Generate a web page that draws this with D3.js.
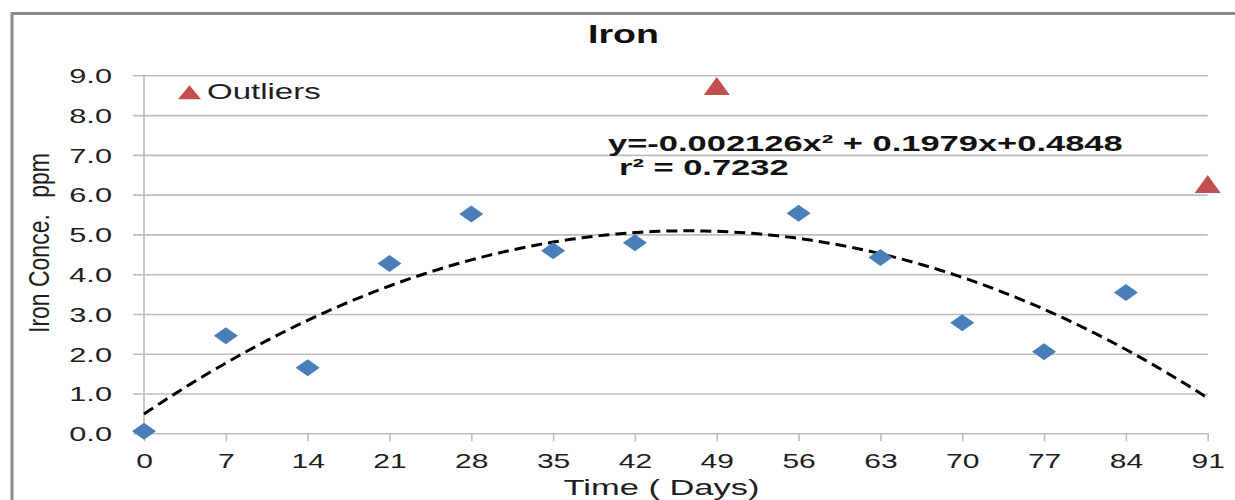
<!DOCTYPE html>
<html>
<head>
<meta charset="utf-8">
<script src="https://cdn.jsdelivr.net/npm/d3@7/dist/d3.min.js"></script>
<style>
  html, body { margin: 0; padding: 0; background: #fff; }
  svg { display: block; }
  text { font-family: "Liberation Sans", Arial, Helvetica, sans-serif; }
</style>
</head>
<body>
<svg id="chart" width="1235" height="500"></svg>
<script>
// Weekly iron readings (ppm)
const days = [0, 7, 14, 21, 28, 35, 42, 56, 63, 70, 77, 84];
const ironValues = [0.05, 2.45, 1.65, 4.27, 5.51, 4.59, 4.79, 5.53, 4.42, 2.78, 2.05, 3.54];

// Readings flagged as outliers
const outlierDays = [49, 91];
const outlierValues = [8.73, 6.27];

// Axis ticks
const xTicks = [0, 7, 14, 21, 28, 35, 42, 49, 56, 63, 70, 77, 84, 91];
const yTicks = [0, 1, 2, 3, 4, 5, 6, 7, 8, 9];

// Second-order polynomial trend: a*x^2 + b*x + c
const trendCoefficients = [-0.002126, 0.1979, 0.4848];
const equationLabel = "y=-0.002126x\u00B2 + 0.1979x+0.4848";
const rSquaredLabel = "r\u00B2 = 0.7232";

const chartTitle = "Iron";
const xTitle = "Time ( Days)";
const yTitleParts = ["Iron Conce.", "ppm"];
const legendLabel = "Outliers";

const svg = d3.select("#chart");
const W = 1235, H = 500;
const STRETCH = 1.5; // wide text rendering

const plot = { left: 144, right: 1207.7, top: 75.3, bottom: 433.3 };
const x = d3.scaleLinear().domain([0, 91]).range([plot.left, plot.right]);
const y = d3.scaleLinear().domain([0, 9]).range([plot.bottom, plot.top]);

// Chart frame
svg.append("rect")
  .attr("x", 12).attr("y", 13.5)
  .attr("width", W + 20).attr("height", H + 20)
  .attr("fill", "none")
  .attr("stroke", "#8a8a8a")
  .attr("stroke-width", 3);

// Horizontal gridlines + y tick labels
const yAxis = svg.append("g")
  .attr("transform", `translate(${plot.left - 11},0)`)
  .call(d3.axisLeft(y).tickValues(yTicks).tickSize(-(plot.right - plot.left + 11)).tickFormat(d3.format(".1f")));
yAxis.select(".domain").remove();
yAxis.selectAll(".tick line").attr("stroke", "#bdbdbd").attr("stroke-width", 1.6);
yAxis.selectAll(".tick text")
  .attr("x", null).attr("dy", null)
  .attr("text-anchor", "end")
  .attr("transform", `translate(-21,7.3) scale(${STRETCH},1)`)
  .attr("font-size", 20.5)
  .attr("fill", "#1e1e1e");

// Vertical axis line
svg.append("line")
  .attr("x1", x(0)).attr("x2", x(0))
  .attr("y1", y(9)).attr("y2", y(0))
  .attr("stroke", "#bdbdbd").attr("stroke-width", 1.6);

// X axis ticks + labels
const xAxis = svg.append("g")
  .attr("transform", `translate(0,${plot.bottom})`)
  .call(d3.axisBottom(x).tickValues(xTicks).tickSize(8));
xAxis.select(".domain").remove();
xAxis.selectAll(".tick line").attr("stroke", "#bdbdbd").attr("stroke-width", 1.6);
xAxis.selectAll(".tick text")
  .attr("y", null).attr("dy", null)
  .attr("transform", `translate(0,35) scale(${STRETCH},1)`)
  .attr("font-size", 20)
  .attr("fill", "#1e1e1e");

// Trend curve
const trend = d => trendCoefficients[0] * d * d + trendCoefficients[1] * d + trendCoefficients[2];
const curveDays = d3.range(0, 91.01, 0.5);
svg.append("path")
  .datum(curveDays)
  .attr("d", d3.line().x(d => x(d)).y(d => y(trend(d))))
  .attr("fill", "none")
  .attr("stroke", "#000")
  .attr("stroke-width", 3)
  .attr("stroke-dasharray", "11,6");

// Diamond markers
const diamond = (w, h) => `M0,${-h / 2}L${w / 2},0L0,${h / 2}L${-w / 2},0Z`;
svg.append("g").selectAll("path")
  .data(days.map((d, i) => [d, ironValues[i]]))
  .join("path")
  .attr("d", diamond(24, 17))
  .attr("transform", d => `translate(${x(d[0])},${y(d[1])})`)
  .attr("fill", "#4a7ebb");

// Triangle markers
const triangle = (w, h) => `M0,${-h / 2}L${w / 2},${h / 2}L${-w / 2},${h / 2}Z`;
svg.append("g").selectAll("path")
  .data(outlierDays.map((d, i) => [d, outlierValues[i]]))
  .join("path")
  .attr("d", triangle(26, 18))
  .attr("transform", d => `translate(${x(d[0])},${y(d[1])})`)
  .attr("fill", "#c0504d");

// Legend
svg.append("path")
  .attr("d", triangle(23, 14))
  .attr("transform", "translate(189.5,92.3)")
  .attr("fill", "#c0504d");
svg.append("text")
  .attr("transform", `translate(207,99) scale(${STRETCH},1)`)
  .attr("font-size", 22)
  .attr("fill", "#1e1e1e")
  .text(legendLabel);

// Title
svg.append("text")
  .attr("transform", `translate(623.5,43) scale(${STRETCH},1)`)
  .attr("text-anchor", "middle")
  .attr("font-size", 25)
  .attr("font-weight", "bold")
  .attr("fill", "#111")
  .text(chartTitle);

// Trend equation
svg.append("text")
  .attr("transform", `translate(608,151) scale(${STRETCH},1)`)
  .attr("font-size", 23)
  .attr("font-weight", "bold")
  .attr("fill", "#111")
  .text(equationLabel);
svg.append("text")
  .attr("transform", `translate(619,175) scale(${STRETCH},1)`)
  .attr("font-size", 23)
  .attr("font-weight", "bold")
  .attr("fill", "#111")
  .text(rSquaredLabel);

// Axis titles
svg.append("text")
  .attr("transform", `translate(661.5,495) scale(${STRETCH},1)`)
  .attr("text-anchor", "middle")
  .attr("font-size", 23)
  .attr("fill", "#1e1e1e")
  .text(xTitle);

// Rotated y title: local x runs upward along the axis
const yTitle = svg.append("g")
  .attr("transform", "translate(49,243) rotate(-90) scale(1,1.3)")
  .attr("font-size", 23)
  .attr("fill", "#1e1e1e");
yTitle.append("text")
  .attr("x", -90).attr("text-anchor", "start")
  .text(yTitleParts[0]);
yTitle.append("text")
  .attr("x", 90).attr("text-anchor", "end")
  .text(yTitleParts[1]);
</script>
</body>
</html>
